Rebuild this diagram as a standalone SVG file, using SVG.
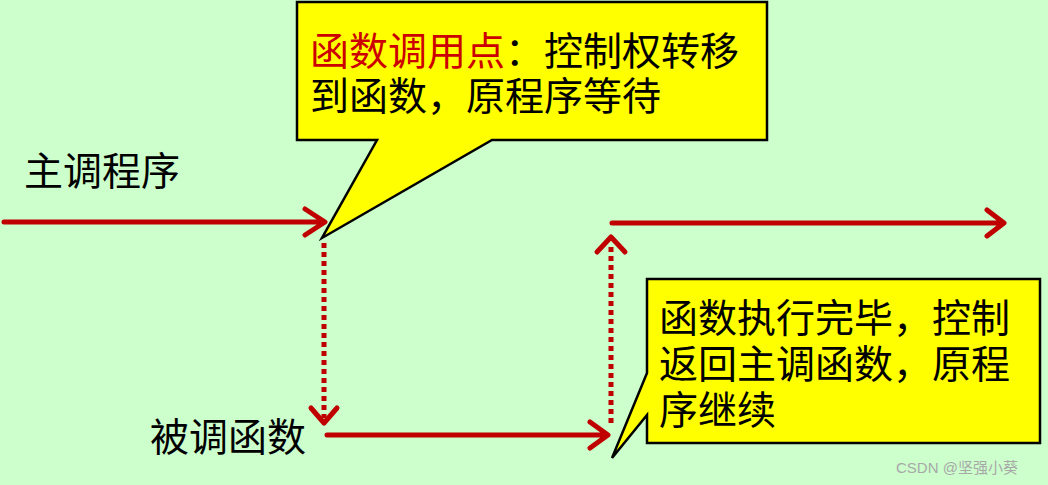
<svg xmlns="http://www.w3.org/2000/svg" width="1048" height="485" viewBox="0 0 1048 485">
<style>
.t{font-family:"Noto Sans CJK SC","Noto Sans",sans-serif;font-size:39px;fill:#000}
.red{fill:#CC0000}
.line{stroke:#C00000;stroke-width:5;fill:none;stroke-linejoin:round;stroke-linecap:round}
.dot{stroke:#C00000;stroke-width:5;fill:none;stroke-dasharray:5 4}
.callout{fill:#FFFF00;stroke:#000;stroke-width:2.5;stroke-linejoin:miter}
.wm{font-family:"Liberation Sans","Noto Sans CJK SC",sans-serif;font-size:15px;fill:#A8A8A8}
</style>
<rect width="1048" height="485" fill="#CCFFCC"/>
<g id="labels">
<text class="t" x="24" y="185">主调程序</text>
<text class="t" x="150" y="451">被调函数</text>
</g>
<g id="connectors">
<path class="line" d="M4,222 H323 M305,209 L325,222 L305,235"/>
<path class="dot" d="M324,243 V418"/>
<path class="line" d="M311,408 L324,423 L337,408"/>
<path class="line" d="M327,435 H606 M590,422 L608,435 L590,448"/>
<path class="dot" d="M611,423 V244"/>
<path class="line" d="M597,252 L611,237 L625,252"/>
<path class="line" d="M612,223 H1003 M987,210 L1004,223 L987,236"/>
</g>
<g id="callout-call">
<path class="callout" d="M297,2 H767 V140 H492 L322,238 L377,140 H297 Z"/>
<text class="t"><tspan x="310" y="65"><tspan class="red">函数调用点</tspan>：控制权转移</tspan><tspan x="310" y="110">到函数，原程序等待</tspan></text>
</g>
<g id="callout-return">
<path class="callout" d="M647,279 H1040 V443 H647 V415 L612,458 L647,373 Z"/>
<text class="t"><tspan x="659" y="332">函数执行完毕，控制</tspan><tspan x="659" y="378">返回主调函数，原程</tspan><tspan x="659" y="424">序继续</tspan></text>
</g>
<text class="wm" x="896" y="473">CSDN @坚强小葵</text>
</svg>
